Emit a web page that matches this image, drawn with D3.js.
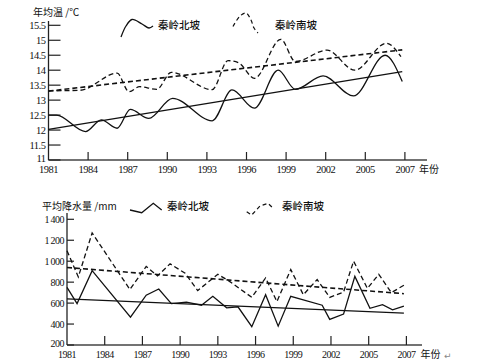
<!DOCTYPE html>
<html><head><meta charset="utf-8">
<script src="https://cdn.jsdelivr.net/npm/d3@7"></script>
<style>
html,body{margin:0;padding:0;background:#fff;}
svg{display:block;}
.tick-num{font-family:"Liberation Serif","Times New Roman",serif;fill:#111;}
.cjk{font-family:"Noto Sans CJK SC","Noto Sans",sans-serif;fill:#111;}
</style>
</head><body>
<svg id="c" width="493" height="364"></svg>
<script>
// ---------- DATA ----------
const tickYears = [1981, 1984, 1987, 1990, 1993, 1996, 1999, 2002, 2005, 2008];
const tickLabels = ["1981", "1984", "1987", "1990", "1993", "1996", "1999", "2002", "2005", "2007"];
const tempTicks = [11, 11.5, 12, 12.5, 13, 13.5, 14, 14.5, 15, 15.5];
const precTicks = [200, 400, 600, 800, 1000, 1200, 1400];
const seriesNames = ["秦岭北坡", "秦岭南坡"];

// 年均温 — 秦岭北坡 (smoothed curve, read at turning points)
const northTempYears = [1981.0, 1981.6, 1983.8, 1985.0, 1986.2, 1987.2, 1988.6, 1990.4, 1993.4, 1994.9, 1996.6, 1998.4, 1999.7, 2001.8, 2004.1, 2006.5, 2007.8];
const northTempValues = [12.5, 12.5, 11.95, 12.34, 12.06, 12.69, 12.39, 13.06, 12.31, 13.34, 12.73, 14.0, 13.36, 13.81, 13.14, 14.5, 13.62];
// 年均温 — 秦岭南坡
const southTempYears = [1981.0, 1983.4, 1986.2, 1987.1, 1987.9, 1989.2, 1990.3, 1993.4, 1994.6, 1995.4, 1996.6, 1998.6, 1999.7, 2002.1, 2004.2, 2006.6, 2007.7];
const southTempValues = [13.31, 13.33, 13.9, 13.28, 13.45, 13.36, 13.93, 13.35, 14.32, 14.25, 13.73, 15.03, 14.29, 14.67, 14.0, 14.9, 14.45];
// trend lines (start/end)
const trendYears = [1981.0, 2007.8];
const northTempTrend = [12.02, 13.95];
const southTempTrend = [13.30, 14.68];

// 平均降水量 — 秦岭北坡
const northPrecYears = [1981.0, 1981.8, 1983.0, 1986.05, 1987.3, 1988.3, 1989.3, 1990.5, 1991.7, 1992.6, 1993.7, 1994.6, 1995.7, 1996.8, 1997.8, 1998.8, 2001.3, 2001.9, 2003.0, 2003.9, 2005.1, 2006.1, 2006.9, 2007.8];
const northPrecValues = [750, 595, 910, 465, 675, 735, 595, 610, 580, 665, 555, 565, 375, 680, 380, 665, 580, 445, 495, 855, 550, 585, 535, 570];
// 平均降水量 — 秦岭南坡
const southPrecYears = [1981.0, 1981.9, 1983.0, 1986.0, 1987.3, 1988.2, 1989.2, 1990.4, 1991.4, 1993.0, 1993.9, 1995.7, 1996.8, 1997.7, 1998.8, 1999.8, 2000.9, 2001.9, 2003.0, 2003.8, 2004.9, 2005.8, 2006.8, 2007.8];
const southPrecValues = [1100, 850, 1270, 730, 950, 860, 975, 885, 720, 875, 810, 655, 840, 615, 920, 680, 825, 655, 705, 1000, 740, 875, 700, 770];
const northPrecTrend = [640, 505];
const southPrecTrend = [940, 690];

// ---------- DRAW ----------
const svg = d3.select("#c");
svg.append("rect").attr("width", 493).attr("height", 364).attr("fill", "#fff");
const ink = "#111";
const dash = "5,3";
const zip = (xs, ys) => xs.map((x, i) => [x, ys[i]]);

function panel(opt) {
  const g = svg.append("g");
  const x = d3.scaleLinear().domain([1981, 2008]).range(opt.xRange);
  const y = d3.scaleLinear().domain(opt.yDomain).range(opt.yRange);

  // axes lines
  g.append("line").attr("x1", x(1981)).attr("x2", opt.xEnd).attr("y1", y(opt.yDomain[0])).attr("y2", y(opt.yDomain[0]))
    .attr("stroke", "#444").attr("stroke-width", 1.5);
  g.append("line").attr("x1", x(1981)).attr("x2", x(1981)).attr("y1", y(opt.yDomain[0])).attr("y2", opt.yTop)
    .attr("stroke", "#222").attr("stroke-width", 1.3);

  // y ticks
  opt.yTicks.forEach((v, i) => {
    g.append("line").attr("x1", x(1981)).attr("x2", x(1981) + opt.yTickLen).attr("y1", y(v)).attr("y2", y(v))
      .attr("stroke", "#222").attr("stroke-width", 1.2);
    g.append("text").attr("class", "tick-num").attr("x", x(1981) - 3).attr("y", y(v) - (i === 0 ? 2 : 0)).attr("dy", "0.35em")
      .attr("text-anchor", "end").attr("font-size", opt.fs).attr("letter-spacing", opt.ls)
      .text(opt.yFmt(v));
  });
  // x ticks
  tickYears.forEach((t, i) => {
    if (i > 0) g.append("line").attr("x1", x(t)).attr("x2", x(t)).attr("y1", y(opt.yDomain[0])).attr("y2", y(opt.yDomain[0]) - opt.xTickLen)
      .attr("stroke", "#222").attr("stroke-width", 1.2);
    g.append("text").attr("class", "tick-num").attr("x", x(t)).attr("y", y(opt.yDomain[0]) + opt.xLabDy)
      .attr("text-anchor", "middle").attr("font-size", opt.fs).attr("letter-spacing", opt.ls).text(tickLabels[i]);
  });
  g.append("text").attr("class", "cjk").attr("x", x(2008) + 14).attr("y", y(opt.yDomain[0]) + opt.xLabDy)
    .attr("font-size", 10).text("年份");
  g.append("text").attr("class", "cjk").attr("x", opt.titleX).attr("y", opt.titleY).attr("font-size", 10).text(opt.title);

  const line = d3.line().x(d => x(d[0])).y(d => y(d[1])).curve(opt.curve);
  const straight = d3.line().x(d => x(d[0])).y(d => y(d[1]));
  // trends
  g.append("path").attr("d", straight(zip(trendYears, opt.nTrend))).attr("fill", "none").attr("stroke", ink).attr("stroke-width", 1.3);
  g.append("path").attr("d", straight(zip(trendYears, opt.sTrend))).attr("fill", "none").attr("stroke", ink).attr("stroke-width", 1.6).attr("stroke-dasharray", dash);
  // series
  g.append("path").attr("d", line(zip(opt.nYears, opt.nVals))).attr("fill", "none").attr("stroke", ink).attr("stroke-width", 1.3);
  g.append("path").attr("d", line(zip(opt.sYears, opt.sVals))).attr("fill", "none").attr("stroke", ink).attr("stroke-width", 1.3).attr("stroke-dasharray", dash);

  // legend
  const lg = d3.line().curve(opt.legendCurve);
  g.append("path").attr("d", lg(opt.legN)).attr("fill", "none").attr("stroke", ink).attr("stroke-width", 1.3);
  g.append("path").attr("d", lg(opt.legS)).attr("fill", "none").attr("stroke", ink).attr("stroke-width", 1.2).attr("stroke-dasharray", "4,3");
  g.append("text").attr("class", "cjk").attr("x", opt.legTextX[0]).attr("y", opt.legTextY).attr("dy", "0.35em")
    .attr("font-size", 10.5).attr("font-weight", 500).text(seriesNames[0]);
  g.append("text").attr("class", "cjk").attr("x", opt.legTextX[1]).attr("y", opt.legTextY).attr("dy", "0.35em")
    .attr("font-size", 10.5).attr("font-weight", 500).text(seriesNames[1]);
}

panel({
  xRange: [48.5, 404.9], xEnd: 427, yDomain: [11, 15.5], yRange: [160, 25.3], yTop: 21,
  yTicks: tempTicks, yFmt: v => String(v), yTickLen: 12, xTickLen: 8, xLabDy: 13,
  fs: 10.5, ls: -0.5, title: "年均温 /℃", titleX: 33, titleY: 16,
  curve: d3.curveMonotoneX,
  nYears: northTempYears, nVals: northTempValues, sYears: southTempYears, sVals: southTempValues,
  nTrend: northTempTrend, sTrend: southTempTrend,
  legendCurve: d3.curveCatmullRom,
  legN: [[121, 37], [126, 26], [132, 19.5], [142, 24], [149, 28], [153, 26]],
  legS: [[233, 26.5], [240, 16], [246, 13], [251, 20], [254, 28], [258, 33]],
  legTextX: [158, 275], legTextY: 25
});

const fmtK = d3.formatLocale({decimal: ".", thousands: "\u2009", grouping: [3], currency: ["", ""]}).format(",");
panel({
  xRange: [67, 406.4], xEnd: 422, yDomain: [200, 1400], yRange: [345, 219.3], yTop: 213,
  yTicks: precTicks, yFmt: v => fmtK(v), yTickLen: 7, xTickLen: 9, xLabDy: 13,
  fs: 10, ls: -0.5, title: "平均降水量 /mm", titleX: 42, titleY: 210,
  curve: d3.curveLinear,
  nYears: northPrecYears, nVals: northPrecValues, sYears: southPrecYears, sVals: southPrecValues,
  nTrend: northPrecTrend, sTrend: southPrecTrend,
  legendCurve: d3.curveLinear,
  legN: [[130, 210], [141.7, 212.7], [153.3, 203.3], [161.7, 210]],
  legS: [[246.7, 211.7], [251.7, 215], [260, 206], [268, 203.3], [273.3, 208.3]],
  legTextX: [167, 282], legTextY: 206
});

svg.append("text").attr("x", 444).attr("y", 359).attr("font-size", 9).attr("fill", "#888")
  .attr("font-family", "DejaVu Sans").text("↵");
</script>
</body></html>
